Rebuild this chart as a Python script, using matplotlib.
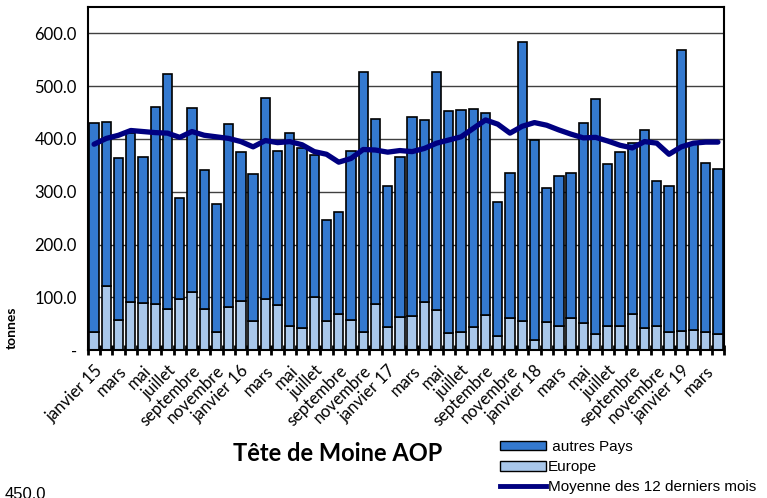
import matplotlib
matplotlib.use("Agg")
import matplotlib.pyplot as plt
from matplotlib.patches import Patch
from matplotlib.lines import Line2D
import numpy as np

# --- Data ---------------------------------------------------------------------
MONTH_NAMES = ["janvier", "février", "mars", "avril", "mai", "juin", "juillet",
               "août", "septembre", "octobre", "novembre", "décembre"]
YEARS = [15, 16, 17, 18, 19]
N_MONTHS = 52  # janvier 15 .. avril 19

TOTAL = [430, 433, 363, 412, 365, 461, 523, 289, 458, 341, 277, 428,
         375, 333, 477, 378, 411, 382, 370, 246, 262, 377, 526, 438,
         310, 366, 442, 436, 527, 452, 454, 457, 450, 281, 335, 584,
         398, 308, 330, 335, 430, 476, 352, 376, 393, 416, 321, 310,
         569, 392, 354, 344]
EUROPE = [35, 122, 57, 92, 90, 87, 78, 97, 110, 78, 34, 82,
          93, 55, 97, 86, 45, 41, 101, 56, 68, 57, 35, 87,
          43, 63, 65, 91, 76, 32, 35, 43, 66, 27, 60, 56,
          19, 54, 46, 61, 51, 30, 45, 45, 68, 42, 45, 35,
          37, 39, 35, 30]
MOYENNE_12 = [390, 401, 407, 416, 414, 412, 411, 403, 414, 407, 404, 401,
              395, 385, 397, 393, 395, 389, 376, 371, 356, 363, 380, 379,
              375, 378, 376, 382, 392, 398, 404, 420, 436, 428, 411, 424,
              431, 426, 417, 409, 402, 403, 396, 388, 383, 395, 392, 371,
              385, 392, 394, 394]

AUTRES = [t - e for t, e in zip(TOTAL, EUROPE)]

labels = []
for i in range(N_MONTHS):
    m = MONTH_NAMES[i % 12]
    if i % 12 == 0:
        m = f"{m} {YEARS[i // 12]}"
    labels.append(m)

# --- Plot ---------------------------------------------------------------------
fig = plt.figure(figsize=(7.67, 4.98), dpi=100)
ax = fig.add_axes([0.1147, 0.297, 0.8293, 0.689])

x = np.arange(N_MONTHS)
c_autres = '#3479CF'
c_europe = '#A9C7EA'
c_line = '#000080'

ax.set_axisbelow(True)
ax.yaxis.grid(True, color='#404040', linewidth=1)

ax.bar(x, EUROPE, width=0.76, color=c_europe, edgecolor='black', linewidth=1.2)
ax.bar(x, AUTRES, width=0.76, bottom=EUROPE, color=c_autres,
       edgecolor='black', linewidth=1.2)
ax.plot(x, MOYENNE_12, color=c_line, linewidth=3.8, solid_capstyle='round',
        solid_joinstyle='round')

ax.set_xlim(-0.5, N_MONTHS - 0.5)
ax.set_ylim(0, 650)
ax.set_yticks(np.arange(0, 601, 100))
ax.set_yticklabels(['-'] + [f"{v:.1f}" for v in range(100, 601, 100)],
                   fontsize=12, family='Lato')
ax.tick_params(axis='y', length=0, pad=8)

ax.set_xticks(x[::2])
ax.set_xticklabels(labels[::2], rotation=45, ha='right', rotation_mode='anchor',
                   fontsize=12, family='Lato')
ax.tick_params(axis='x', length=0, pad=9)
ax.set_xticks(np.arange(N_MONTHS + 1) - 0.5, minor=True)
ax.tick_params(axis='x', which='minor', length=7, width=2, direction='inout')

for s in ax.spines.values():
    s.set_linewidth(1.5)
    s.set_color('black')

ax.set_ylabel('tonnes', fontsize=10, fontweight='bold', family='Lato')
ax.yaxis.set_label_coords(-0.11, 0.065)

fig.text(0.44, 0.09, 'Tête de Moine AOP', fontsize=17, fontweight='bold',
         family='Lato', ha='center', va='center')

handles = [Patch(facecolor=c_autres, edgecolor='black', label=' autres Pays'),
           Patch(facecolor=c_europe, edgecolor='black', label='Europe'),
           Line2D([0], [0], color=c_line, linewidth=3.5,
                  label='Moyenne des 12 derniers mois')]
fig.legend(handles=handles, loc='upper left',
           bbox_to_anchor=(500 / 767, 1 - 440 / 498),
           frameon=False, borderpad=0, borderaxespad=0,
           handlelength=3.0, handleheight=0.6,
           handletextpad=0.15, labelspacing=0.4,
           prop={'family': 'Liberation Sans', 'size': 11})

fig.text(0.006, 0.022, '450.0', fontsize=12, family='Liberation Sans',
         ha='left', va='top')

fig.savefig('out.png', dpi=100)
